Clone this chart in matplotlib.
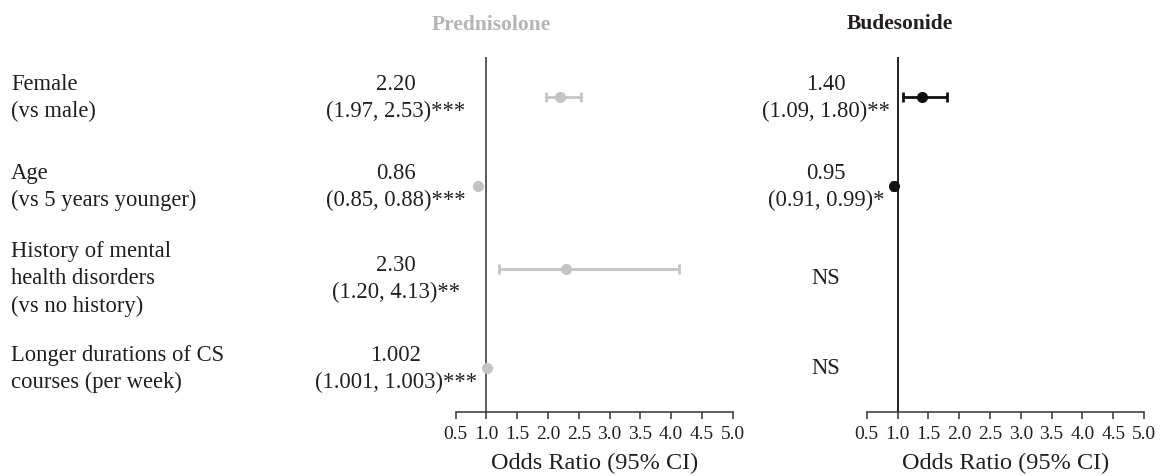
import matplotlib
matplotlib.use("Agg")
import matplotlib.pyplot as plt

plt.rcParams['font.family'] = ['Liberation Serif', 'DejaVu Serif']

# row labels
factors = ["Female\n(vs male)",
           "Age\n(vs 5 years younger)",
           "History of mental\nhealth disorders\n(vs no history)",
           "Longer durations of CS\ncourses (per week)"]

# Prednisolone odds ratios
pred_or = [2.20, 0.86, 2.30, 1.002]
pred_lo = [1.97, 0.85, 1.20, 1.001]
pred_hi = [2.53, 0.88, 4.13, 1.003]
pred_txt = ["2.20", "0.86", "2.30", "1.002"]
pred_ci_txt = ["(1.97, 2.53)***", "(0.85, 0.88)***", "(1.20, 4.13)**", "(1.001, 1.003)***"]

# Budesonide odds ratios (only first two significant)
bud_or = [1.40, 0.95]
bud_lo = [1.09, 0.91]
bud_hi = [1.80, 0.99]
bud_txt = ["1.40", "0.95", "NS", "NS"]
bud_ci_txt = ["(1.09, 1.80)**", "(0.91, 0.99)*", "", ""]

xticks = [0.5, 1.0, 1.5, 2.0, 2.5, 3.0, 3.5, 4.0, 4.5, 5.0]

# layout (pixel rows of the 1161x476 canvas)
W, H = 1161, 476
marker_y = [97, 186, 269, 368]
text_y = [98, 187, 279, 369]
ax_top, ax_bot = 57, 412

TXT = '#231f20'
GREY = '#c4c4c4'

fig = plt.figure(figsize=(W / 100, H / 100), dpi=100)

def make_panel(x0, x1, vcolor):
    ax = fig.add_axes([x0 / W, (H - ax_bot) / H, (x1 - x0) / W, (ax_bot - ax_top) / H])
    ax.set_xlim(0.5, 5.0)
    ax.set_ylim(ax_bot, ax_top)
    for s in ['top', 'right', 'left']:
        ax.spines[s].set_visible(False)
    ax.spines['bottom'].set_color('#333333')
    ax.spines['bottom'].set_linewidth(1.1)
    ax.set_yticks([])
    ax.set_xticks(xticks)
    ax.set_xticklabels([f"{t:.1f}" for t in xticks])
    ax.tick_params(axis='x', direction='out', length=5, width=1.1, color='#333333',
                   labelsize=14, labelcolor=TXT, pad=5)
    ax.axvline(1.0, color=vcolor, lw=1.3, zorder=1)
    ax.set_xlabel("Odds Ratio (95% CI)", fontsize=17.5, color=TXT, labelpad=7)
    ax.patch.set_alpha(0)
    return ax

ax1 = make_panel(455.6, 732.7, '#4d4d4d')
ax2 = make_panel(866.7, 1144, '#111111')

ax1.errorbar(pred_or, marker_y, xerr=[[o - l for o, l in zip(pred_or, pred_lo)],
                                      [h - o for o, h in zip(pred_or, pred_hi)]],
             fmt='o', color=GREY, ecolor=GREY, ms=7, elinewidth=2, capsize=3.5,
             capthick=2, zorder=3, clip_on=False)
ax2.errorbar(bud_or, marker_y[:2], xerr=[[o - l for o, l in zip(bud_or, bud_lo)],
                                         [h - o for o, h in zip(bud_or, bud_hi)]],
             fmt='o', color='#111111', ecolor='#111111', ms=7, elinewidth=2, capsize=3.5,
             capthick=2, zorder=3, clip_on=False)

# text overlay in pixel coordinates
tx = fig.add_axes([0, 0, 1, 1])
tx.set_xlim(0, W)
tx.set_ylim(H, 0)
tx.axis('off')
tx.patch.set_alpha(0)

tx.text(491, 25, "Prednisolone", ha='center', va='center', fontsize=15.5,
        fontweight='bold', color='#b5b5b5')
tx.text(900, 24, "Budesonide", ha='center', va='center', fontsize=15.5,
        fontweight='bold', color=TXT)

LS = 1.38
for i, lab in enumerate(factors):
    tx.text(11, text_y[i], lab, ha='left', va='center', fontsize=16.3, color=TXT,
            linespacing=LS)
    tx.text(396, text_y[i], pred_txt[i] + "\n" + pred_ci_txt[i], ha='center', va='center',
            fontsize=16.3, color=TXT, linespacing=LS)
    if bud_ci_txt[i]:
        tx.text(826, text_y[i], bud_txt[i] + "\n" + bud_ci_txt[i], ha='center', va='center',
                fontsize=16.3, color=TXT, linespacing=LS)
    else:
        tx.text(826, text_y[i], bud_txt[i], ha='center', va='center', fontsize=16.3, color=TXT)

fig.savefig("out.png", dpi=100)
